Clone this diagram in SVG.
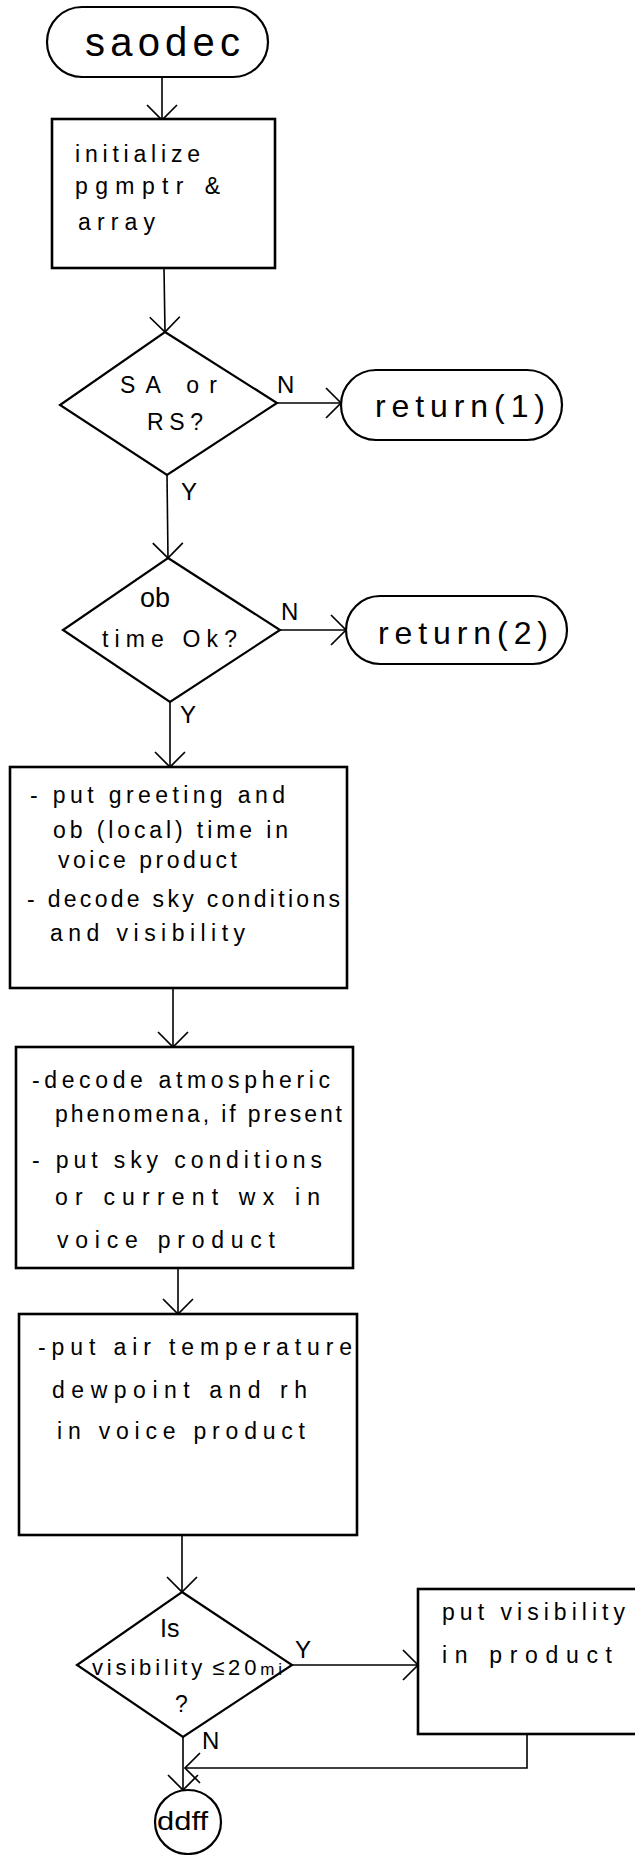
<svg xmlns="http://www.w3.org/2000/svg" width="635" height="1855" viewBox="0 0 635 1855">
<defs>
<style>
.bg{fill:#fff}
.box{fill:#fff;stroke:#000;stroke-width:2.6}
.term{fill:#fff;stroke:#000;stroke-width:2.2}
.dia{fill:#fff;stroke:#000;stroke-width:2.2}
.con{fill:none;stroke:#000;stroke-width:1.6}
.t{font-family:"Liberation Sans",Arial,sans-serif;font-size:23px;fill:#000}
.big{font-family:"Liberation Sans",Arial,sans-serif;font-size:40px;fill:#000}
.ret{font-family:"Liberation Sans",Arial,sans-serif;font-size:32px;fill:#000}
.lbl{font-family:"Liberation Sans",Arial,sans-serif;font-size:24px;fill:#000}
.dt{font-family:"Liberation Sans",Arial,sans-serif;font-size:23px;fill:#000}
</style>
<marker id="arr" viewBox="0 0 20 36" refX="17" refY="18" markerWidth="20" markerHeight="36" markerUnits="userSpaceOnUse" orient="auto" overflow="visible">
<path d="M2,3 L17,18 L2,33" fill="none" stroke="#000" stroke-width="1.7"/>
</marker>
</defs>
<rect class="bg" x="0" y="0" width="635" height="1855"/>

<g id="connectors">
<line class="con" x1="162" y1="77" x2="162" y2="120" marker-end="url(#arr)"/>
<line class="con" x1="164" y1="268" x2="165" y2="332" marker-end="url(#arr)"/>
<line class="con" x1="277" y1="403" x2="341" y2="403" marker-end="url(#arr)"/>
<line class="con" x1="167" y1="475" x2="168" y2="558" marker-end="url(#arr)"/>
<line class="con" x1="280" y1="630" x2="346" y2="630" marker-end="url(#arr)"/>
<line class="con" x1="170" y1="702" x2="170" y2="767" marker-end="url(#arr)"/>
<line class="con" x1="173" y1="988" x2="173" y2="1047" marker-end="url(#arr)"/>
<line class="con" x1="178" y1="1268" x2="178" y2="1314" marker-end="url(#arr)"/>
<line class="con" x1="182" y1="1535" x2="182" y2="1592" marker-end="url(#arr)"/>
<line class="con" x1="292" y1="1665" x2="418" y2="1665" marker-end="url(#arr)"/>
<line class="con" x1="183" y1="1737" x2="183" y2="1790" marker-end="url(#arr)"/>
<polyline class="con" points="527,1734 527,1768 185,1768" marker-end="url(#arr)"/>
<text class="lbl" x="277" y="393">N</text>
<text class="lbl" x="181" y="500">Y</text>
<text class="lbl" x="281" y="620">N</text>
<text class="lbl" x="180" y="723">Y</text>
<text class="lbl" x="295" y="1658">Y</text>
<text class="lbl" x="202" y="1749">N</text>
</g>

<g id="start">
<rect class="term" x="47" y="7" width="221" height="70" rx="35"/>
<text class="big" x="85" y="56" textLength="155" lengthAdjust="spacing">saodec</text>
</g>

<g id="init">
<rect class="box" x="52" y="119" width="223" height="149"/>
<text class="t" x="75" y="162" textLength="125" lengthAdjust="spacing">initialize</text>
<text class="t" x="75" y="194" textLength="145" lengthAdjust="spacing">pgmptr  &amp;</text>
<text class="t" x="78" y="230" textLength="77" lengthAdjust="spacing">array</text>
</g>

<g id="dec1">
<polygon class="dia" points="165,332 277,403 167,475 60,405"/>
<text class="dt" x="120" y="393" textLength="97" lengthAdjust="spacing">SA   or</text>
<text class="dt" x="147" y="430" textLength="56" lengthAdjust="spacing">RS?</text>
</g>

<g id="ret1">
<rect class="term" x="341" y="370" width="221" height="70" rx="35"/>
<text class="ret" x="375" y="417" textLength="170" lengthAdjust="spacing">return(1)</text>
</g>

<g id="dec2">
<polygon class="dia" points="168,558 280,630 170,702 63,630"/>
<text class="t" x="140" y="607" style="font-size:27px">ob</text>
<text class="t" x="102" y="647" textLength="135" lengthAdjust="spacing">time  Ok?</text>
</g>

<g id="ret2">
<rect class="term" x="346" y="596" width="221" height="68" rx="34"/>
<text class="ret" x="378" y="644" textLength="170" lengthAdjust="spacing">return(2)</text>
</g>

<g id="box3">
<rect class="box" x="10" y="767" width="337" height="221"/>
<text class="t" x="30" y="803" textLength="255" lengthAdjust="spacing">- put  greeting  and</text>
<text class="t" x="53" y="838" textLength="235" lengthAdjust="spacing">ob (local)  time  in</text>
<text class="t" x="58" y="868" textLength="179" lengthAdjust="spacing">voice  product</text>
<text class="t" x="27" y="907" textLength="313" lengthAdjust="spacing">- decode sky conditions</text>
<text class="t" x="50" y="941" textLength="195" lengthAdjust="spacing">and  visibility</text>
</g>

<g id="box4">
<rect class="box" x="16" y="1047" width="337" height="221"/>
<text class="t" x="32" y="1088" textLength="298" lengthAdjust="spacing">-decode   atmospheric</text>
<text class="t" x="55" y="1122" textLength="287" lengthAdjust="spacing">phenomena,  if present</text>
<text class="t" x="32" y="1168" textLength="290" lengthAdjust="spacing">- put   sky   conditions</text>
<text class="t" x="55" y="1205" textLength="265" lengthAdjust="spacing">or   current   wx   in</text>
<text class="t" x="57" y="1248" textLength="218" lengthAdjust="spacing">voice   product</text>
</g>

<g id="box5">
<rect class="box" x="19" y="1314" width="338" height="221"/>
<text class="t" x="38" y="1355" textLength="314" lengthAdjust="spacing">-put   air   temperature</text>
<text class="t" x="52" y="1398" textLength="255" lengthAdjust="spacing">dewpoint   and   rh</text>
<text class="t" x="57" y="1439" textLength="248" lengthAdjust="spacing">in   voice  product</text>
</g>

<g id="dec3">
<polygon class="dia" points="182,1592 292,1665 183,1737 77,1665"/>
<text class="dt" x="160" y="1637" style="font-size:25px">Is</text>
<text class="dt" x="92" y="1675" style="font-size:22px" textLength="190" lengthAdjust="spacing">visibility<tspan style="font-size:22px" dx="6">≤20</tspan><tspan style="font-size:17px">mi</tspan></text>
<text class="dt" x="175" y="1712">?</text>
</g>

<g id="box6">
<rect class="box" x="418" y="1589" width="230" height="145"/>
<text class="t" x="442" y="1620" textLength="183" lengthAdjust="spacing">put   visibility</text>
<text class="t" x="442" y="1663" textLength="170" lengthAdjust="spacing">in   product</text>
</g>

<g id="ddff">
<ellipse class="term" cx="188" cy="1822" rx="33" ry="32"/>
<text class="t" x="157" y="1830" style="font-size:26px" textLength="51" lengthAdjust="spacingAndGlyphs">ddff</text>
</g>
</svg>
